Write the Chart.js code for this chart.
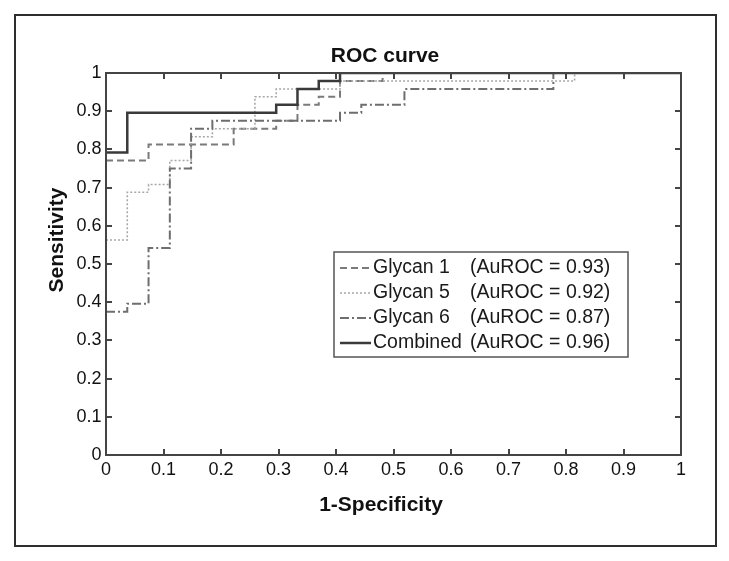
<!DOCTYPE html>
<html>
<head>
<meta charset="utf-8">
<script src="https://cdn.jsdelivr.net/npm/chart.js@4"></script>
<style>
  html, body { margin: 0; padding: 0; background: #fff; }
</style>
</head>
<body>
<canvas id="rocChart" width="729" height="561"></canvas>
<script>
// ROC points (1-specificity, sensitivity)
const glycan1Fpr = [0, 0.074, 0.222, 0.296, 0.333, 0.370, 0.407, 0.481, 1];
const glycan1Tpr = [0.771, 0.813, 0.854, 0.875, 0.917, 0.938, 0.979, 1, 1];

const glycan5Fpr = [0, 0.037, 0.074, 0.111, 0.148, 0.185, 0.259, 0.296, 0.407, 0.815, 1];
const glycan5Tpr = [0.563, 0.688, 0.708, 0.771, 0.833, 0.854, 0.938, 0.958, 0.979, 1, 1];

const glycan6Fpr = [0, 0.037, 0.074, 0.111, 0.148, 0.185, 0.407, 0.444, 0.519, 0.778, 1];
const glycan6Tpr = [0.375, 0.396, 0.542, 0.75, 0.854, 0.875, 0.896, 0.917, 0.958, 1, 1];

const combinedFpr = [0, 0.037, 0.296, 0.333, 0.370, 0.407, 1];
const combinedTpr = [0.792, 0.896, 0.917, 0.958, 0.979, 1, 1];

const seriesNames = ['Glycan 1', 'Glycan 5', 'Glycan 6', 'Combined'];
const aurocValues = ['0.93', '0.92', '0.87', '0.96'];

const xTickLabels = ['0', '0.1', '0.2', '0.3', '0.4', '0.5', '0.6', '0.7', '0.8', '0.9', '1'];
const yTickLabels = ['0', '0.1', '0.2', '0.3', '0.4', '0.5', '0.6', '0.7', '0.8', '0.9', '1'];

const chartTitle = 'ROC curve';
const xAxisTitle = '1-Specificity';
const yAxisTitle = 'Sensitivity';
const FONT = "'Liberation Sans', Arial, Helvetica, sans-serif";

const toPoints = (xs, ys) => xs.map((x, i) => ({ x: x, y: ys[i] }));

const datasets = [
  { data: toPoints(glycan1Fpr, glycan1Tpr), borderColor: '#7a7a7a', borderWidth: 2, borderDash: [7, 4], order: 3 },
  { data: toPoints(glycan5Fpr, glycan5Tpr), borderColor: '#a8a8a8', borderWidth: 1.6, borderDash: [2, 2], order: 2 },
  { data: toPoints(glycan6Fpr, glycan6Tpr), borderColor: '#6e6e6e', borderWidth: 2, borderDash: [9, 3, 2, 3], order: 1 },
  { data: toPoints(combinedFpr, combinedTpr), borderColor: '#3a3a3a', borderWidth: 2.5, borderDash: [], order: 0 }
].map((d, i) => Object.assign(d, {
  label: seriesNames[i] + ' (AuROC = ' + aurocValues[i] + ')',
  stepped: 'before',
  fill: false,
  pointRadius: 0,
  pointHoverRadius: 0
}));

// frame, box axes with inward ticks, titles and the MATLAB-like legend
const figureDecor = {
  id: 'figureDecor',
  beforeDraw(chart) {
    const ctx = chart.ctx;
    ctx.save();
    ctx.fillStyle = '#fff';
    ctx.fillRect(0, 0, chart.width, chart.height);
    ctx.strokeStyle = '#2e2e2e';
    ctx.lineWidth = 2;
    ctx.strokeRect(15, 15, 701, 531);
    ctx.restore();
  },
  afterDatasetsDraw(chart) {
    const { ctx, chartArea: a, scales: { x, y } } = chart;
    ctx.save();

    ctx.strokeStyle = '#444';
    ctx.lineWidth = 2;
    ctx.strokeRect(a.left, a.top, a.right - a.left, a.bottom - a.top);

    ctx.beginPath();
    x.ticks.forEach(t => {
      const px = Math.round(x.getPixelForValue(t.value));
      ctx.moveTo(px, a.bottom); ctx.lineTo(px, a.bottom - 6);
      ctx.moveTo(px, a.top); ctx.lineTo(px, a.top + 6);
    });
    y.ticks.forEach(t => {
      const py = Math.round(y.getPixelForValue(t.value));
      ctx.moveTo(a.left, py); ctx.lineTo(a.left + 6, py);
      ctx.moveTo(a.right, py); ctx.lineTo(a.right - 6, py);
    });
    ctx.stroke();

    // titles (offset like the original MATLAB figure)
    ctx.fillStyle = '#111';
    ctx.font = 'bold 21px ' + FONT;
    ctx.textAlign = 'center';
    ctx.textBaseline = 'middle';
    ctx.fillText(chartTitle, 385, 56);
    ctx.fillText(xAxisTitle, 381, 505);
    ctx.save();
    ctx.translate(57, 240);
    ctx.rotate(-Math.PI / 2);
    ctx.fillText(yAxisTitle, 0, 0);
    ctx.restore();

    // legend
    const lx = 334, ly = 252, lw = 294, lh = 105;
    ctx.fillStyle = '#fff';
    ctx.fillRect(lx, ly, lw, lh);
    ctx.strokeStyle = '#555';
    ctx.lineWidth = 1.5;
    ctx.strokeRect(lx, ly, lw, lh);

    ctx.font = '19.5px ' + FONT;
    ctx.textAlign = 'left';
    seriesNames.forEach((name, i) => {
      const ds = chart.data.datasets[i];
      const ry = 268 + i * 25;
      ctx.save();
      ctx.strokeStyle = ds.borderColor;
      ctx.lineWidth = ds.borderWidth;
      ctx.setLineDash(ds.borderDash);
      ctx.beginPath();
      ctx.moveTo(340, ry);
      ctx.lineTo(371, ry);
      ctx.stroke();
      ctx.restore();
      ctx.fillStyle = '#1a1a1a';
      ctx.fillText(name, 373, ry);
      ctx.fillText('(AuROC = ' + aurocValues[i] + ')', 470, ry);
    });

    ctx.restore();
  }
};

new Chart(document.getElementById('rocChart').getContext('2d'), {
  type: 'line',
  data: { datasets: datasets },
  options: {
    responsive: false,
    animation: false,
    devicePixelRatio: 1,
    layout: { padding: { top: 73, right: 48, left: 0, bottom: 0 } },
    plugins: {
      legend: { display: false },
      tooltip: { enabled: false }
    },
    scales: {
      x: {
        type: 'linear',
        min: 0,
        max: 1,
        afterFit(scale) { scale.height = 106; },
        grid: { display: false, drawTicks: false },
        border: { display: false },
        ticks: {
          stepSize: 0.1,
          padding: 4,
          color: '#111',
          font: { family: FONT, size: 18 },
          maxRotation: 0,
          callback: (value, index) => xTickLabels[index]
        }
      },
      y: {
        type: 'linear',
        min: 0,
        max: 1,
        afterFit(scale) { scale.width = 106; },
        grid: { display: false, drawTicks: false },
        border: { display: false },
        ticks: {
          stepSize: 0.1,
          padding: 4.5,
          color: '#111',
          font: { family: FONT, size: 18 },
          callback: (value, index) => yTickLabels[index]
        }
      }
    }
  },
  plugins: [figureDecor]
});
</script>
</body>
</html>
